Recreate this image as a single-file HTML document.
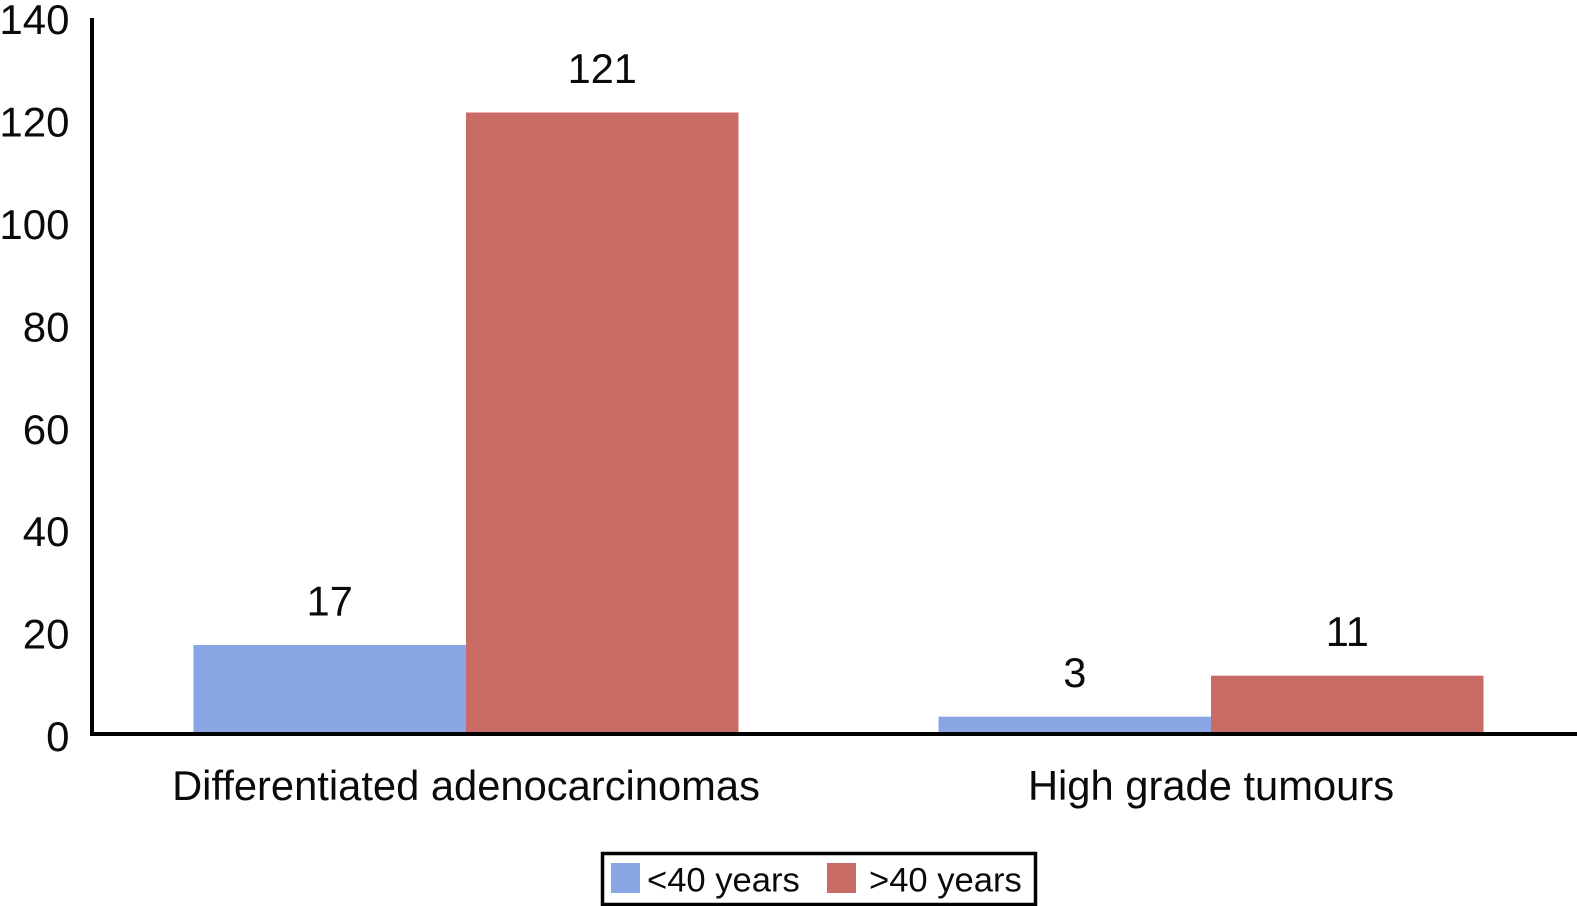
<!DOCTYPE html>
<html lang="en">
<head>
<meta charset="utf-8">
<title>Tumour type by age group</title>
<style>
html,body{margin:0;padding:0;background:#fff;}
body{width:1577px;height:906px;overflow:hidden;}
svg{display:block;}
text{font-family:"Liberation Sans",Arial,sans-serif;fill:#0a0a0a;}
</style>
</head>
<body>
<svg id="chart" xmlns="http://www.w3.org/2000/svg" width="1577" height="906" viewBox="0 0 1577 906"></svg>
<script>
const categories = ["Differentiated adenocarcinomas", "High grade tumours"];
const under40Values = [17, 3];
const over40Values = [121, 11];
const tickValues = [0, 20, 40, 60, 80, 100, 120, 140];
const seriesNames = ["<40 years", ">40 years"];

const svg = document.getElementById('chart');
const NS = 'http://www.w3.org/2000/svg';
const baseY = 732, pxPerUnit = 5.12;
const firstCenter = 466, groupStep = 745, barW = 272.5;
const colors = ['#8aa5e4', '#c96b65'];

function y(v) { return baseY - v * pxPerUnit; }
function groupCenter(i) { return firstCenter + i * groupStep; }

function make(tag, attrs, text) {
  const el = document.createElementNS(NS, tag);
  for (const k in attrs) el.setAttribute(k, attrs[k]);
  if (text !== undefined) el.textContent = text;
  svg.appendChild(el);
  return el;
}

[under40Values, over40Values].forEach(function (series, s) {
  series.forEach(function (v, i) {
    const x = groupCenter(i) + (s - 1) * barW;
    const bar = make('rect', { x: x, y: y(v), width: barW, height: v * pxPerUnit, fill: colors[s] });
    
    
    const label = make('text', { x: x + barW / 2, y: y(v) - 29.5, 'font-size': 41.5, 'text-anchor': 'middle' }, String(v));
    
    
  });
});

tickValues.forEach(function (t) {
  const tick = make('text', { x: 69.5, y: y(t) + 19, 'font-size': 42, 'text-anchor': 'end' }, String(t));
  
  
});

categories.forEach(function (c, i) {
  const cat = make('text', { x: groupCenter(i), y: 800, 'font-size': 41.7, 'text-anchor': 'middle' }, c);
  
  
});

const yAxis = make('rect', { x: 90, y: 18, width: 4, height: 718, fill: '#000' });


const xAxis = make('rect', { x: 90, y: baseY, width: 1487, height: 4, fill: '#000' });



const legendBox = make('rect', { x: 602.5, y: 853.5, width: 433, height: 51, fill: '#fff', stroke: '#000', 'stroke-width': 3.5 });


seriesNames.forEach(function (n, s) {
  const sx = 611 + s * 216;
  const swatch = make('rect', { x: sx, y: 863, width: 29, height: 30, fill: colors[s] });
  
  
  const txt = make('text', { x: sx + (s === 0 ? 36 : 42), y: 891.5, 'font-size': 34.6 }, n);
  
  
});
</script>
</body>
</html>
